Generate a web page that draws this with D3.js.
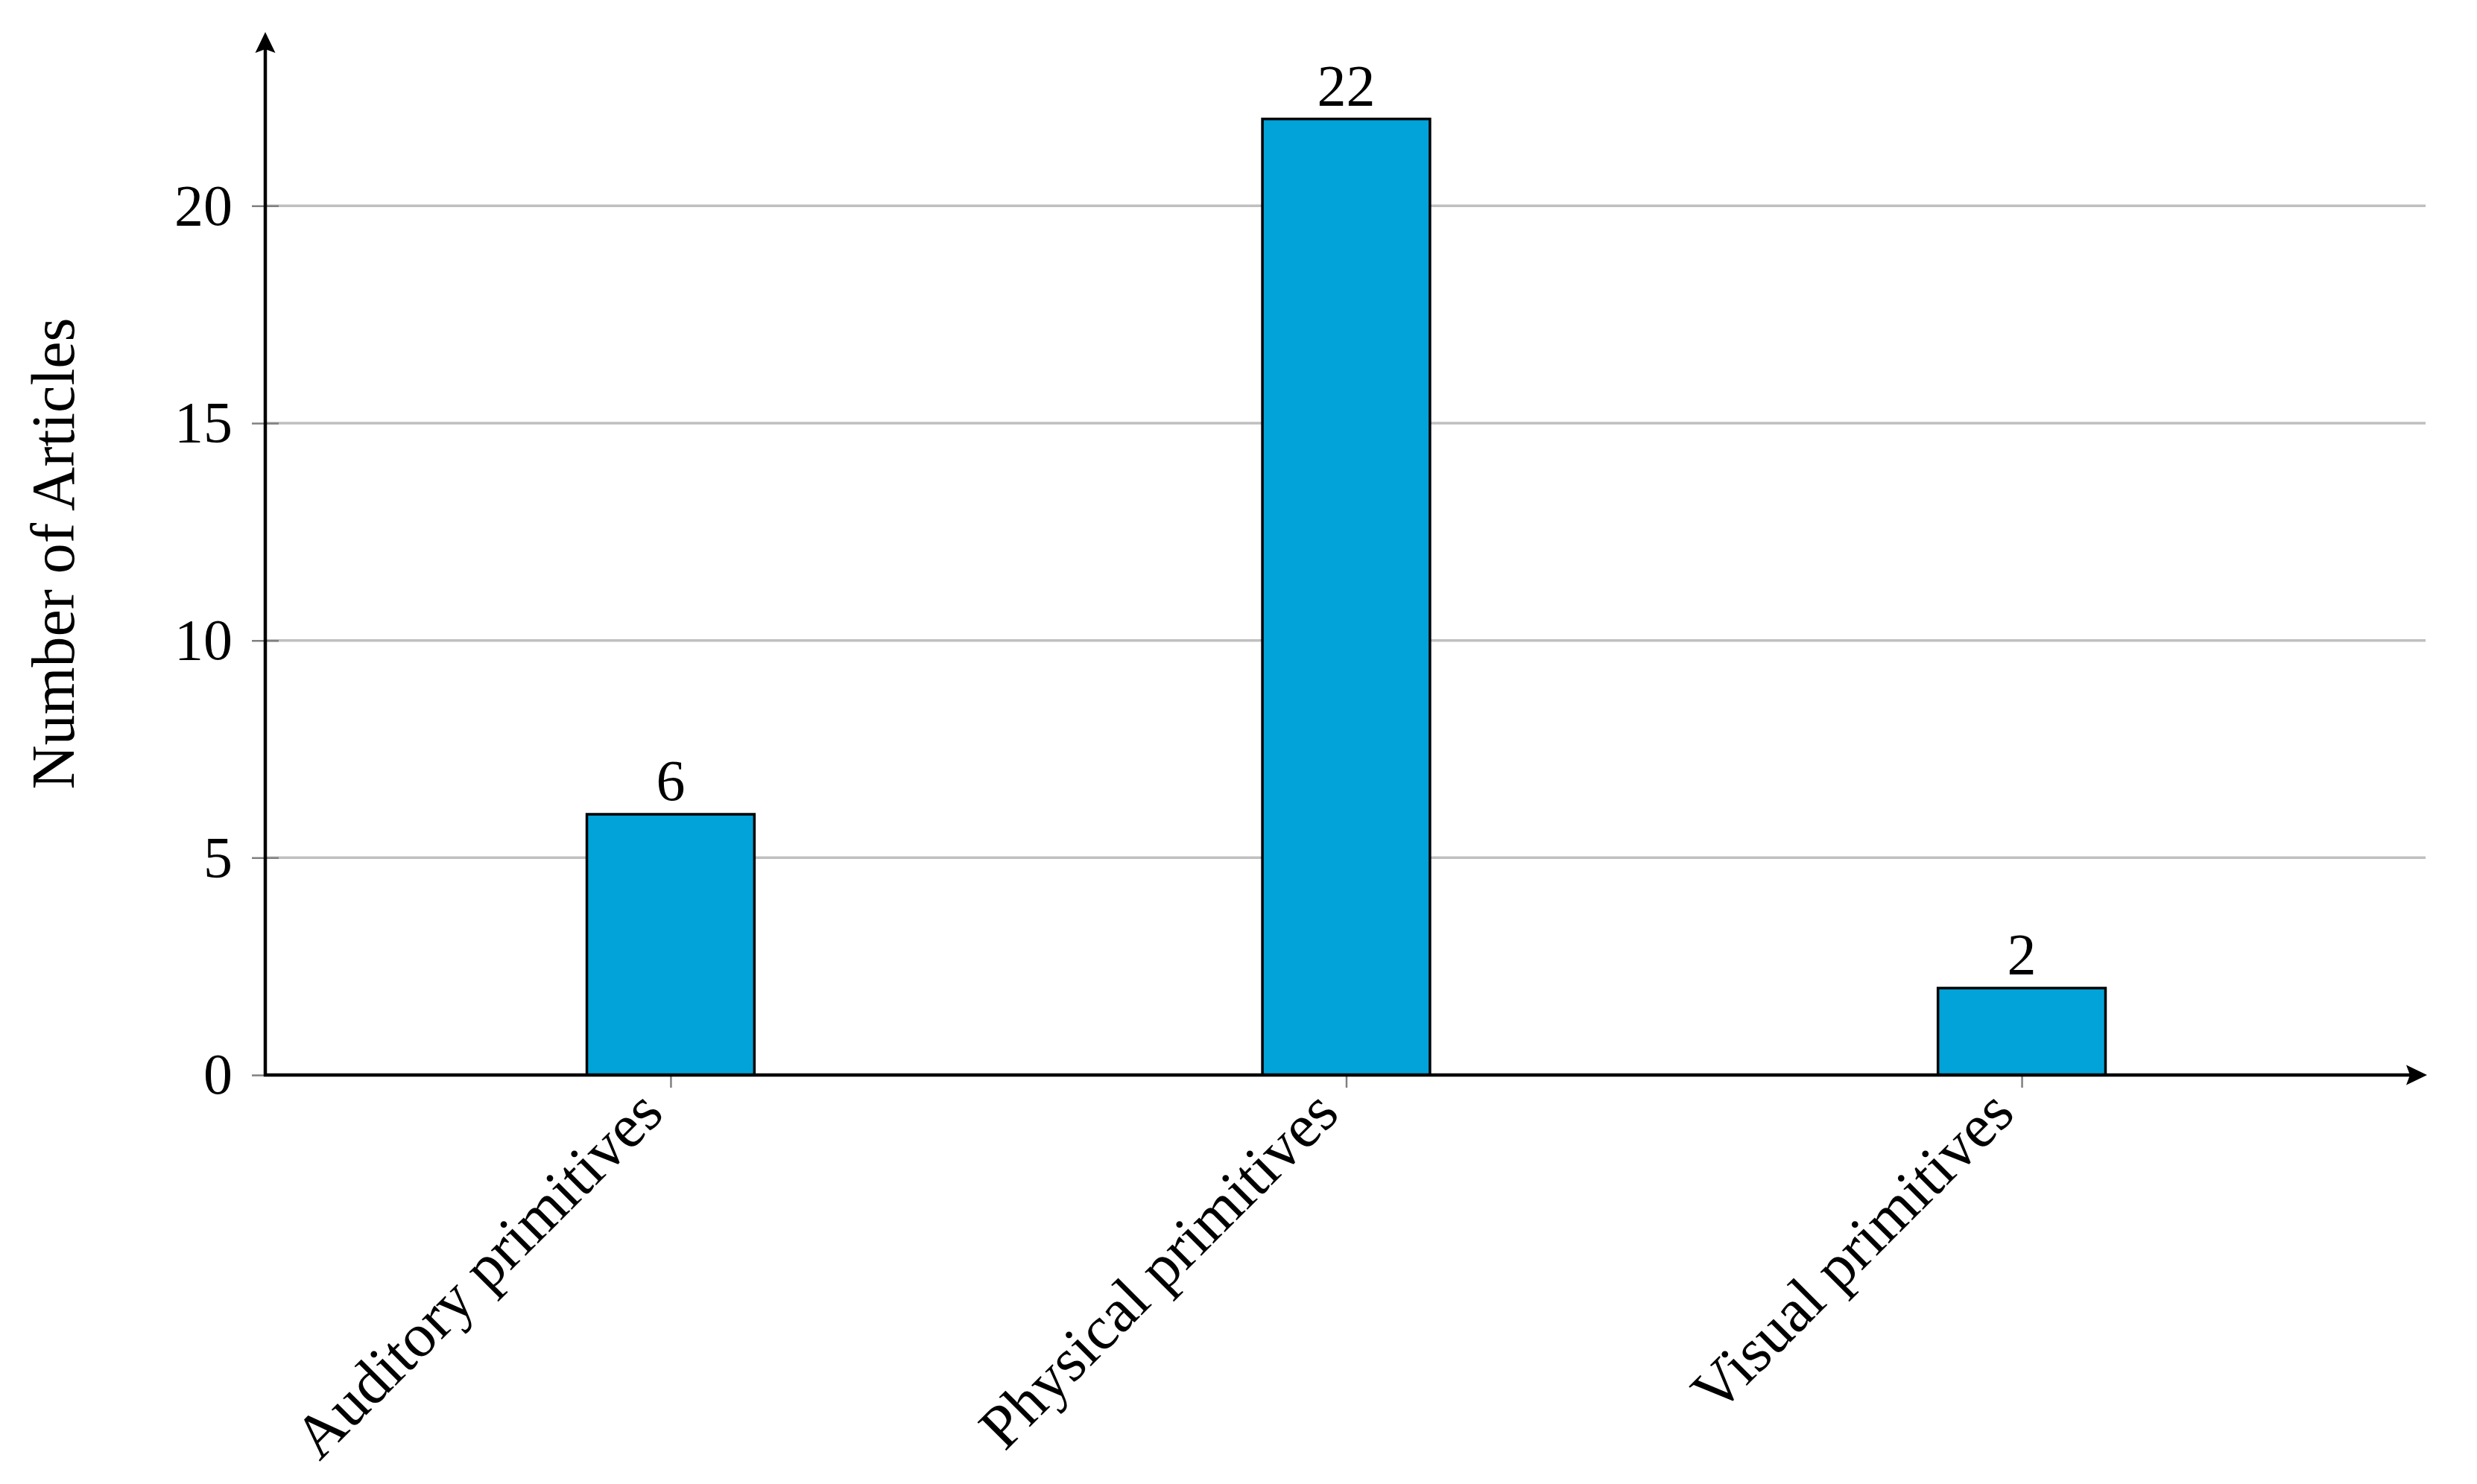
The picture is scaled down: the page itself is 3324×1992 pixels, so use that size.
<!DOCTYPE html>
<html>
<head>
<meta charset="utf-8">
<script src="https://cdn.jsdelivr.net/npm/d3@7"></script>
<style>
  html, body { margin: 0; padding: 0; background: #fff; }
  svg { display: block; }
  text { font-family: "Liberation Serif", "DejaVu Serif", serif; fill: #000; }
</style>
</head>
<body>
<script>
const categories = ["Auditory primitives", "Physical primitives", "Visual primitives"];
const values = [6, 22, 2];
const yTicks = [0, 5, 10, 15, 20];
const yLabel = "Number of Articles";

const W = 3324, H = 1992;
const x0 = 356, x1 = 3257, yBase = 1443, yTop = 43;

const svg = d3.select("body").append("svg").attr("width", W).attr("height", H);

const x = d3.scalePoint().domain(categories).range([x0, x1]).padding(0.6);
const y = d3.scaleLinear().domain([0, 24]).range([yBase, yTop]);
const barW = x.step() * 0.248;

// gridlines
svg.append("g").selectAll("line").data(yTicks.filter(d => d > 0)).join("line")
  .attr("x1", x0).attr("x2", x1 - 2)
  .attr("y1", d => y(d)).attr("y2", d => y(d))
  .attr("stroke", "#bfbfbf").attr("stroke-width", 3.5);

// y ticks
const yAxis = d3.axisLeft(y).tickValues(yTicks).tickSize(0).tickPadding(44).tickFormat(d3.format("d"));
const gy = svg.append("g").attr("transform", `translate(${x0},0)`).call(yAxis);
gy.select(".domain").remove();
gy.selectAll("text").attr("font-size", 78).attr("font-family", "Liberation Serif");
gy.selectAll(".tick").append("line").attr("x1", -18).attr("x2", 18)
  .attr("stroke", "#808080").attr("stroke-width", 2.5);

// x ticks
const xAxis = d3.axisBottom(x).tickSize(0).tickFormat("");
const gx = svg.append("g").attr("transform", `translate(0,${yBase})`).call(xAxis);
gx.select(".domain").remove();
gx.selectAll(".tick").append("line").attr("y1", -17).attr("y2", 17)
  .attr("stroke", "#808080").attr("stroke-width", 2.5);
gx.selectAll(".tick text").remove();
gx.selectAll(".tick").append("text")
  .attr("transform", "translate(-26,36) rotate(-45)")
  .attr("text-anchor", "end")
  .attr("dy", "0.32em")
  .attr("font-size", 83)
  .text(d => d);

// bars
svg.append("g").selectAll("rect").data(values).join("rect")
  .attr("x", (d, i) => x(categories[i]) - barW / 2)
  .attr("y", d => y(d))
  .attr("width", barW)
  .attr("height", d => yBase - y(d))
  .attr("fill", "#02a3d9")
  .attr("stroke", "#000").attr("stroke-width", 3.5);

// value labels
svg.append("g").selectAll("text").data(values).join("text")
  .attr("x", (d, i) => x(categories[i]))
  .attr("y", d => y(d) - 19)
  .attr("text-anchor", "middle")
  .attr("font-size", 78)
  .text(d => d);

// axes lines with arrows
const ax = svg.append("g");
ax.append("line").attr("x1", x0).attr("x2", x0).attr("y1", yBase + 2).attr("y2", yTop + 20)
  .attr("stroke", "#000").attr("stroke-width", 4.5);
ax.append("line").attr("x1", x0 - 2).attr("x2", x1 - 20).attr("y1", yBase).attr("y2", yBase)
  .attr("stroke", "#000").attr("stroke-width", 4.5);
// arrowheads
ax.append("path")
  .attr("d", `M${x0},${yTop} L${x0 + 13.5},${yTop + 28} L${x0},${yTop + 23} L${x0 - 13.5},${yTop + 28} Z`)
  .attr("fill", "#000");
ax.append("path")
  .attr("d", `M${x1},${yBase} L${x1 - 28},${yBase - 13.5} L${x1 - 23},${yBase} L${x1 - 28},${yBase + 13.5} Z`)
  .attr("fill", "#000");

// y label
svg.append("text")
  .attr("transform", `translate(70,${(yBase + yTop) / 2}) rotate(-90)`)
  .attr("text-anchor", "middle")
  .attr("dy", "0.35em")
  .attr("font-size", 82)
  .text(yLabel);
</script>
</body>
</html>
